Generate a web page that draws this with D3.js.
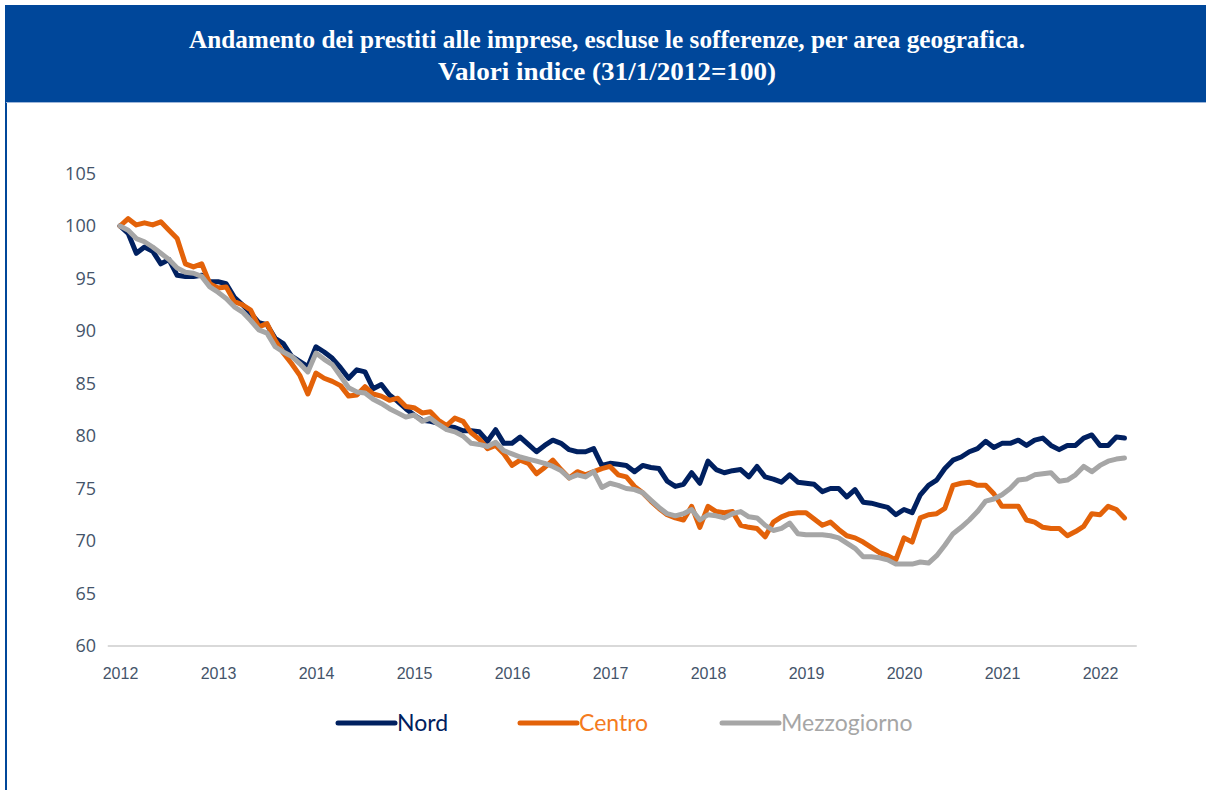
<!DOCTYPE html>
<html><head><meta charset="utf-8">
<script src="https://cdn.jsdelivr.net/npm/d3@7"></script>
<style>
body{margin:0;background:#fff;}
svg{display:block;}
</style></head>
<body>
<svg id="chart" width="1206" height="790"></svg>
<script>
const titleLines = ["Andamento dei prestiti alle imprese, escluse le sofferenze, per area geografica.", "Valori indice (31/1/2012=100)"];
const yearLabels = ["2012","2013","2014","2015","2016","2017","2018","2019","2020","2021","2022"];
const yTicks = [60,65,70,75,80,85,90,95,100,105];
const seriesNames = ["Nord","Centro","Mezzogiorno"];
// monthly values, Jan 2012 .. Apr 2022
const nord = [100,99.3,97.4,98.0,97.6,96.4,96.8,95.3,95.2,95.2,95.3,94.7,
94.7,94.5,93.2,92.5,91.7,90.8,90.6,89.3,88.8,87.6,87.1,86.6,
88.5,88.0,87.4,86.5,85.5,86.3,86.1,84.5,84.9,83.9,83.3,82.6,
82.0,81.5,81.4,81.2,80.9,80.8,80.5,80.5,80.4,79.5,80.6,79.3,
79.3,79.9,79.2,78.5,79.1,79.6,79.3,78.7,78.5,78.5,78.8,77.2,
77.4,77.3,77.2,76.6,77.2,77.0,76.9,75.7,75.2,75.4,76.5,75.5,
77.6,76.8,76.5,76.7,76.8,76.1,77.1,76.1,75.9,75.6,76.3,75.6,
75.5,75.4,74.7,75.0,75.0,74.2,74.9,73.7,73.6,73.4,73.2,72.5,
73.0,72.7,74.4,75.3,75.8,76.9,77.7,78.0,78.5,78.8,79.5,78.9,
79.3,79.3,79.6,79.1,79.6,79.8,79.1,78.7,79.1,79.1,79.8,80.1,
79.1,79.1,79.9,79.8];
const centro = [100,100.7,100.1,100.3,100.1,100.4,99.6,98.8,96.4,96.1,96.4,94.5,
94.1,94.2,92.8,92.5,92.0,90.4,90.7,89.1,87.9,86.9,85.8,84.0,
86.0,85.5,85.2,84.8,83.8,83.9,84.7,84.0,83.8,83.4,83.6,82.8,
82.7,82.2,82.3,81.5,81.0,81.7,81.4,80.3,79.7,78.8,79.1,78.3,
77.2,77.7,77.4,76.4,77.0,77.7,76.8,76.0,76.6,76.3,76.6,76.9,
77.1,76.3,76.1,75.2,74.6,73.8,73.1,72.5,72.2,72.0,73.3,71.3,
73.3,72.8,72.7,72.8,71.5,71.3,71.2,70.4,71.8,72.3,72.6,72.7,
72.7,72.1,71.5,71.8,71.1,70.5,70.3,69.9,69.4,68.9,68.6,68.2,
70.3,69.9,72.2,72.5,72.6,73.1,75.3,75.5,75.6,75.3,75.3,74.5,
73.3,73.3,73.3,72.0,71.8,71.3,71.2,71.2,70.5,70.9,71.4,72.6,
72.5,73.3,73.0,72.2];
const mezzogiorno = [100,99.6,98.8,98.5,98.0,97.4,96.8,96.0,95.6,95.5,95.2,94.2,
93.7,93.1,92.3,91.8,91.0,90.1,89.8,88.5,88.0,87.6,86.9,86.1,
87.9,87.3,86.8,85.7,84.6,84.2,84.1,83.5,83.1,82.6,82.2,81.8,
82.0,81.4,81.7,81.1,80.6,80.4,80.0,79.3,79.2,79.0,79.4,78.6,
78.3,78.0,77.8,77.6,77.4,77.1,76.7,76.0,76.3,76.1,76.6,75.1,
75.5,75.3,75.0,74.9,74.6,73.9,73.2,72.6,72.4,72.6,73.0,72.0,
72.5,72.4,72.2,72.6,72.8,72.3,72.2,71.5,71.0,71.2,71.7,70.7,
70.6,70.6,70.6,70.5,70.3,69.8,69.3,68.5,68.5,68.4,68.2,67.8,
67.8,67.8,68.0,67.9,68.6,69.6,70.7,71.3,72.0,72.8,73.8,74.0,
74.4,75.0,75.8,75.9,76.3,76.4,76.5,75.7,75.8,76.3,77.1,76.6,
77.2,77.6,77.8,77.9];
const colors = ["#002060","#E36209","#A6A6A6"];
const legendTextColors = ["#002060","#F47B20","#A6A6A6"];

const svg = d3.select("#chart");
// header band
svg.append("rect").attr("x",6).attr("y",5).attr("width",1200).attr("height",97).attr("fill","#00479A");
svg.append("line").attr("x1",6).attr("x2",6).attr("y1",5).attr("y2",790).attr("stroke","#00479A").attr("stroke-width",2);
svg.append("line").attr("x1",6).attr("x2",1206).attr("y1",102.5).attr("y2",102.5).attr("stroke","#9DB6DA").attr("stroke-width",1);
const titleWidths = [836, 338];
svg.selectAll("text.title").data(titleLines).join("text").attr("class","title")
  .attr("x",607).attr("y",(d,i)=>48+i*32).attr("text-anchor","middle")
  .attr("fill","#fff").attr("font-family","'Liberation Serif', serif").attr("font-weight","bold")
  .attr("font-size",26).attr("textLength",(d,i)=>titleWidths[i]).attr("lengthAdjust","spacingAndGlyphs")
  .text(d=>d);

const x = d3.scaleLinear().domain([0,120]).range([120,1100]);
const y = d3.scaleLinear().domain([60,105]).range([646,173.5]);

// x axis line
svg.append("line").attr("x1",x(-1.5)).attr("x2",x(124.5)).attr("y1",y(60)).attr("y2",y(60))
  .attr("stroke","#D9D9D9").attr("stroke-width",2);

const xAxis = d3.axisBottom(x).tickValues(yearLabels.map((d,i)=>i*12)).tickSize(0).tickPadding(0)
  .tickFormat((d,i)=>yearLabels[i]);
const gx = svg.append("g").attr("transform",`translate(0,${y(60)+22})`).call(xAxis);
gx.select(".domain").remove();
gx.selectAll("text").attr("fill","#44546A").attr("font-family","'Liberation Sans Narrow','Liberation Sans',sans-serif")
  .attr("font-size",16).attr("dy","0.71em").attr("y",0);

const yAxis = d3.axisLeft(y).tickValues(yTicks).tickSize(0).tickPadding(0);
const gy = svg.append("g").attr("transform","translate(96,0)").call(yAxis);
gy.select(".domain").remove();
gy.selectAll("text").attr("fill","#44546A").attr("font-family","'Open Sans','Liberation Sans',sans-serif")
  .attr("font-size",18);

const data = [nord, centro, mezzogiorno];
const line = d3.line().x((d,i)=>x(i)).y(d=>y(d));
svg.selectAll("path.series").data(data).join("path").attr("class","series")
  .attr("d",line).attr("fill","none").attr("stroke",(d,i)=>colors[i])
  .attr("stroke-width",5).attr("stroke-linejoin","round").attr("stroke-linecap","round");

// legend
const legendX = [338, 520, 722];
const lg = svg.selectAll("g.leg").data(seriesNames).join("g").attr("class","leg")
  .attr("transform",(d,i)=>`translate(${legendX[i]},723)`);
lg.append("line").attr("x1",0).attr("x2",57).attr("y1",0).attr("y2",0)
  .attr("stroke",(d,i)=>colors[i]).attr("stroke-width",5).attr("stroke-linecap","round");
lg.append("text").attr("x",59).attr("y",0).attr("dy","0.35em").text(d=>d)
  .attr("fill",(d,i)=>legendTextColors[i]).attr("font-family","Lato,'Open Sans',sans-serif")
  .attr("font-size",23);
</script>
</body></html>
